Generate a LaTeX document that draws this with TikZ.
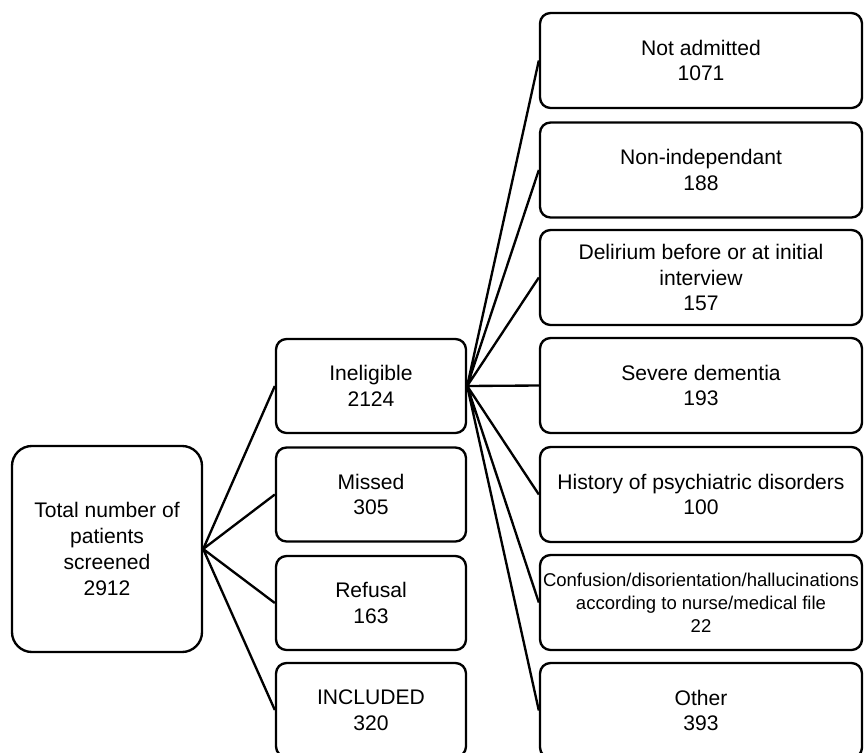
\documentclass[tikz,border=0pt]{standalone}
\usepackage{fontspec}
\setmainfont{Liberation Sans}
\begin{document}
\begin{tikzpicture}[x=0.03cm,y=-0.03cm]
\tikzstyle{every node}=[draw,line width=2pt,align=center,font=\fontsize{18}{22}\selectfont,inner sep=2pt]
\tikzstyle{leftbox}=[minimum width=5.7cm,minimum height=6.18cm,rounded corners=17pt]
\tikzstyle{midbox}=[minimum width=5.7cm,minimum height=2.82cm,rounded corners=9pt]
\tikzstyle{rightbox}=[minimum width=9.66cm,minimum height=2.85cm,rounded corners=9pt]
\useasboundingbox (0,0) rectangle (864,753);
\node[leftbox] at (107,549) (tot) {Total number of\\patients\\screened\\2912};
\node[midbox] at (371,386) (inel) {Ineligible\\2124};
\node[midbox] at (371,494.5) (miss) {Missed\\305};
\node[midbox] at (371,603) (ref) {Refusal\\163};
\node[midbox] at (371,710) (incl) {INCLUDED\\320};
\node[rightbox] at (701,60.5) (na) {Not admitted\\1071};
\node[rightbox] at (701,170) (ni) {Non-independant\\188};
\node[rightbox] at (701,277.5) (del) {Delirium before or at initial\\interview\\157};
\node[rightbox] at (701,385.5) (dem) {Severe dementia\\193};
\node[rightbox] at (701,494.5) (psy) {History of psychiatric disorders\\100};
\node[rightbox,font=\fontsize{15.8}{19.5}\selectfont] at (701,602.5) (conf) {Confusion/disorientation/hallucinations\\according to nurse/medical file\\22};
\node[rightbox] at (701,710.5) (oth) {Other\\393};
\draw[line width=2pt] (tot.east) -- (inel.west)
      (tot.east) -- (miss.west)
      (tot.east) -- (ref.west)
      (tot.east) -- (incl.west)
     (inel.east) -- (na.west)
     (inel.east) -- (ni.west)
     (inel.east) -- (del.west)
     (inel.east) -- (dem.west)
     (inel.east) -- (psy.west)
     (inel.east) -- (conf.west)
     (inel.east) -- (oth.west);
\end{tikzpicture}
\end{document}
